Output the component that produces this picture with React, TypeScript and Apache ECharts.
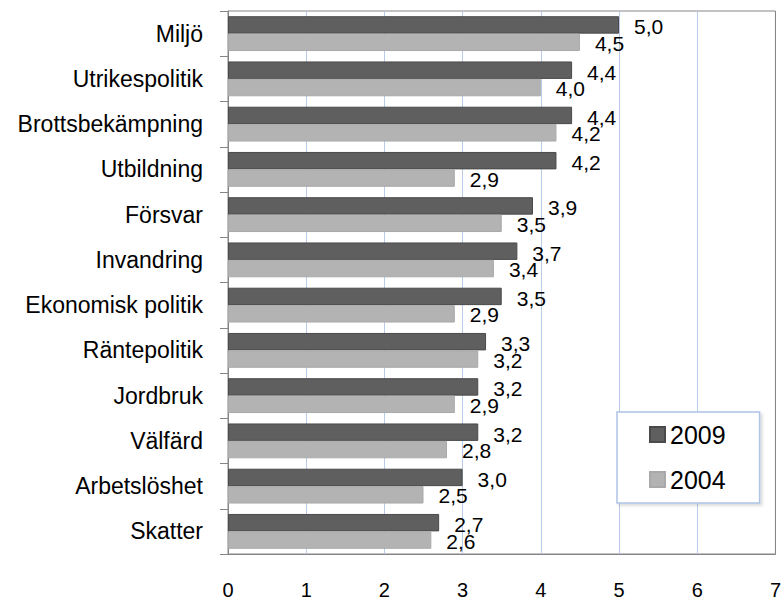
import React, { useEffect, useRef } from "react";
import * as echarts from "echarts";

const categories = [
  "Miljö",
  "Utrikespolitik",
  "Brottsbekämpning",
  "Utbildning",
  "Försvar",
  "Invandring",
  "Ekonomisk politik",
  "Räntepolitik",
  "Jordbruk",
  "Välfärd",
  "Arbetslöshet",
  "Skatter",
];
const values2009 = [5.0, 4.4, 4.4, 4.2, 3.9, 3.7, 3.5, 3.3, 3.2, 3.2, 3.0, 2.7];
const values2004 = [4.5, 4.0, 4.2, 2.9, 3.5, 3.4, 2.9, 3.2, 2.9, 2.8, 2.5, 2.6];
const seriesNames = ["2009", "2004"];

const FONT = "'Liberation Sans', Arial, sans-serif";
const fmt = (p: any) => Number(p.value).toFixed(1).replace(".", ",");

export default function App() {
  const ref = useRef<HTMLDivElement>(null);
  useEffect(() => {
    if (!ref.current) return;
    const chart = echarts.init(ref.current, null, { renderer: "svg" });
    const blue = "#b9cbe8";
    const gray = "#868686";
    chart.setOption({
      animation: false,
      backgroundColor: "#ffffff",
      textStyle: { fontFamily: FONT },
      grid: {
        left: 228,
        right: 4,
        top: 11,
        bottom: 45,
        show: true,
        borderColor: gray,
        borderWidth: 1,
        backgroundColor: "transparent",
      },
      legend: {
        orient: "vertical",
        left: 617,
        top: 412,
        data: seriesNames,
        itemWidth: 15,
        itemHeight: 15,
        itemGap: 20,
        icon: "rect",
        padding: [10, 34, 11, 32],
        backgroundColor: "#ffffff",
        borderColor: "#aec3e6",
        borderWidth: 1.5,
        shadowColor: "rgba(0,0,0,0.15)",
        shadowBlur: 3,
        shadowOffsetX: 2,
        shadowOffsetY: 2,
        textStyle: { fontSize: 25, color: "#000", fontFamily: FONT },
      },
      xAxis: {
        type: "value",
        min: 0,
        max: 7,
        interval: 1,
        axisLine: { show: true, lineStyle: { color: gray, width: 1 } },
        axisTick: { show: false },
        axisLabel: {
          fontSize: 20,
          color: "#000",
          margin: 26,
          fontFamily: FONT,
        },
        splitLine: {
          show: true,
          lineStyle: {
            color: [gray, blue, blue, blue, blue, blue, blue, gray],
            width: 1,
          },
        },
      },
      yAxis: {
        type: "category",
        data: categories,
        inverse: true,
        axisLine: { show: true, lineStyle: { color: gray, width: 1 } },
        axisTick: {
          show: true,
          length: 8,
          lineStyle: { color: gray },
        },
        axisLabel: {
          fontSize: 23,
          color: "#000",
          margin: 25,
          fontFamily: FONT,
        },
        splitLine: { show: false },
      },
      series: [
        {
          name: seriesNames[0],
          type: "bar",
          data: values2009,
          barGap: "0%",
          barCategoryGap: "23%",
          itemStyle: {
            color: "#5f5f5f",
            borderColor: "#4a4a4a",
            borderWidth: 1,
          },
          label: {
            show: true,
            position: "right",
            distance: 15,
            offset: [0, 2],
            formatter: fmt,
            fontSize: 21,
            color: "#000",
            fontFamily: FONT,
          },
        },
        {
          name: seriesNames[1],
          type: "bar",
          data: values2004,
          barGap: "0%",
          barCategoryGap: "23%",
          itemStyle: {
            color: "#b3b3b3",
            borderColor: "#a9a9a9",
            borderWidth: 1,
          },
          label: {
            show: true,
            position: "right",
            distance: 15,
            offset: [0, 1],
            formatter: fmt,
            fontSize: 21,
            color: "#000",
            fontFamily: FONT,
          },
        },
      ],
    });
    return () => chart.dispose();
  }, []);
  return (
    <div
      ref={ref}
      style={{ position: "fixed", left: 0, top: 0, width: 784, height: 600 }}
    />
  );
}
